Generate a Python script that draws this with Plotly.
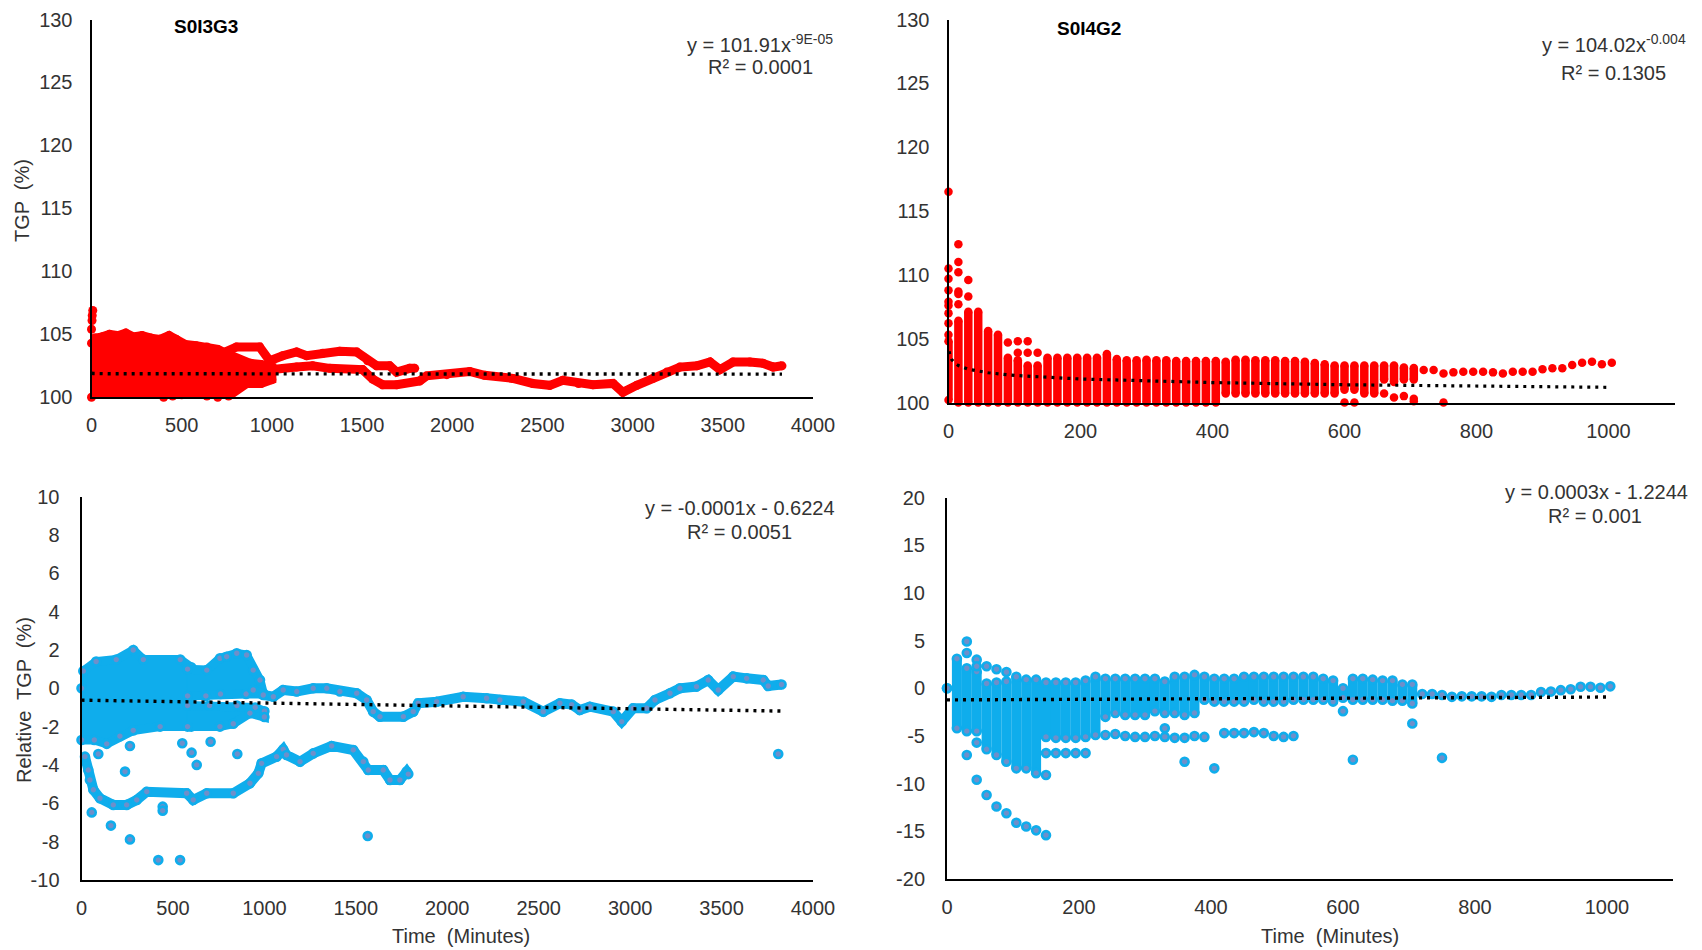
import plotly.graph_objects as go

W, H = 1702, 950
RED = "#FF0000"
BLUE = "#0FADEC"
BLUE_CORE = "#6E8FCA"
TXT = "#333333"
FONT = "Liberation Sans Narrow, Arial Narrow, Liberation Sans, Arial, sans-serif"

# ---------------- Panel A : S0I3G3, TGP (%) ----------------
a_cloud_x = [0, 20, 60, 100, 150, 190, 230, 280, 330, 380, 430, 470, 520, 580, 640, 700, 760, 820, 880, 940, 1000,
             1000, 940, 860, 800, 760, 700, 640, 560, 500, 450, 400, 0]
a_cloud_y = [104.3, 104.7, 104.8, 105.0, 104.9, 105.1, 104.8, 104.9, 104.7, 104.6, 104.9, 104.6, 104.2, 104.1, 104.0,
             103.8, 103.4, 103.0, 102.7, 102.6, 102.4,
             101.4, 101.1, 101.1, 100.6, 100.1, 100.0, 100.1, 100.3, 100.2, 100.1, 100.0, 100.0]
a_chain1_x = [727, 804, 932, 988, 1060, 1137, 1193, 1282, 1376, 1470, 1531, 1581, 1653, 1692, 1764, 1792]
a_chain1_y = [103.5, 104.0, 104.0, 102.9, 103.3, 103.6, 103.3, 103.5, 103.65, 103.6, 102.9, 102.5, 102.5, 102.0, 102.3, 102.3]
a_chain2_x = [760, 1004, 1137, 1226, 1320, 1503, 1559, 1614, 1692, 1820, 1858, 1970, 2097, 2179, 2336, 2447, 2541,
              2613, 2700, 2780, 2891, 2946, 3023, 3113, 3190, 3262, 3356, 3429, 3484, 3557, 3650, 3723, 3779, 3828]
a_chain2_y = [102.2, 102.2, 102.4, 102.5, 102.3, 102.2, 101.45, 101.0, 101.0, 101.3, 101.7, 101.8, 102.05, 101.75,
              101.5, 101.1, 100.95, 101.35, 101.1, 101.0, 101.1, 100.4, 100.95, 101.5, 102.0, 102.4, 102.5, 102.8,
              102.2, 102.8, 102.8, 102.7, 102.4, 102.5]
a_extra_x = [0, 3, 4, 7]
a_extra_y = [105.4, 106.1, 106.5, 106.9]
a_trend_x = [1, 10, 100, 1000, 3828]
a_trend_y = [101.91, 101.89, 101.87, 101.85, 101.84]

# ---------------- Panel B : S0I4G2, TGP (%) ----------------
b_col_x = list(range(0, 706, 15))
b_col_lo = [100.2] + [100.0] * 27 + [100.7] * 12 + [101.0, 101.0, 100.7, 100.7, 101.8, 101.6, 101.8, 101.8]
b_col_hi = [104.8, 106.4, 107.1, 107.1, 105.6, 105.3, 103.5, 103.3, 102.9, 102.9,
            103.5, 103.5, 103.5, 103.5, 103.5, 103.5, 103.8, 103.4, 103.3, 103.3,
            103.35, 103.3, 103.3, 103.25, 103.25, 103.25, 103.25, 103.25,
            103.2, 103.35, 103.35, 103.3, 103.3, 103.3, 103.25, 103.25, 103.2, 103.1, 103.0, 102.9,
            102.9, 102.9, 102.9, 102.9, 102.9, 102.9, 102.75, 102.7]
b_single_x = [720, 735, 750, 765, 780, 795, 810, 825, 840, 855, 870, 885, 900, 915, 930, 945, 960, 975, 990, 1005]
b_single_y = [102.55, 102.55, 102.28, 102.36, 102.41, 102.41, 102.41, 102.36, 102.28, 102.41, 102.41, 102.41,
              102.6, 102.68, 102.68, 102.94, 103.12, 103.2, 103.0, 103.12]
b_extra_x = [0, 0, 0, 0, 0, 0, 0, 0, 0, 15, 15, 15, 15, 15, 15, 30, 30, 90, 105, 105, 120, 120, 135,
             600, 615, 660, 675, 690, 705, 705, 750]
b_extra_y = [116.5, 110.5, 109.7, 108.8, 107.9, 107.6, 107.0, 106.2, 105.3, 112.4, 111.0, 110.2, 108.7, 108.5,
             107.7, 109.6, 108.3, 104.7, 104.8, 103.9, 104.8, 103.9, 103.9,
             100.0, 100.0, 100.7, 100.4, 100.5, 100.3, 100.1, 100.0]
b_trend_x = [1, 2, 5, 10, 15, 30, 60, 100, 200, 400, 600, 800, 1000]
b_trend_y = [104.02, 103.73, 103.35, 103.07, 102.90, 102.61, 102.33, 102.12, 101.84, 101.56, 101.39, 101.28, 101.19]

# ---------------- Panel C : S0I3G3, Relative TGP (%) ----------------
c_cloud1_x = [0, 10, 80, 190, 283, 338, 540, 600, 600, 430, 283, 210, 138, 70, 0]
c_cloud1_y = [0.0, 0.9, 1.4, 1.5, 2.0, 1.5, 1.5, 1.1, -2.0, -2.0, -2.2, -2.5, -2.9, -2.7, -2.7]
c_cloud2_x = [580, 685, 757, 794, 849, 903, 939, 976, 994, 994, 900, 760, 680, 580]
c_cloud2_y = [1.0, 0.95, 1.57, 1.65, 1.83, 1.74, 0.95, 0.43, -0.26, -0.3, -0.3, -0.3, -0.4, -0.4]
c_cloud3_x = [580, 700, 850, 950, 1000, 1000, 921, 830, 757, 580]
c_cloud3_y = [-0.9, -0.9, -0.9, -1.0, -1.2, -1.5, -1.3, -1.85, -2.0, -2.0]
c_low_x = [19, 37, 46, 65, 101, 174, 247, 302, 357, 575, 611, 685, 830, 921, 967, 985, 1067, 1103, 1121, 1195,
           1267, 1368, 1486, 1541, 1568, 1650, 1687, 1741, 1778, 1787]
c_low_y = [-3.57, -4.27, -4.79, -5.3, -5.74, -6.09, -6.09, -5.83, -5.4, -5.48, -5.83, -5.48, -5.48, -4.96, -4.44,
           -3.92, -3.57, -3.19, -3.48, -3.83, -3.4, -3.01, -3.22, -3.83, -4.27, -4.27, -4.79, -4.79, -4.35, -4.48]
c_up_x = [939, 994, 1049, 1103, 1177, 1267, 1341, 1413, 1505, 1559, 1595, 1632, 1760, 1814, 1841, 1942, 2087,
          2215, 2288, 2416, 2525, 2616, 2680, 2725, 2780, 2908, 2954, 3017, 3090, 3136, 3218, 3272, 3363, 3427,
          3482, 3564, 3637, 3728, 3755, 3828]
c_up_y = [-0.09, -0.35, -0.44, -0.09, -0.17, 0.0, 0.0, -0.17, -0.26, -0.61, -1.22, -1.48, -1.48, -1.22, -0.78,
          -0.7, -0.44, -0.52, -0.61, -0.7, -1.22, -0.78, -0.85, -1.13, -0.96, -1.22, -1.74, -1.04, -1.04, -0.61,
          -0.26, 0.0, 0.09, 0.43, -0.09, 0.61, 0.52, 0.43, 0.12, 0.2]
c_extra_x = [92, 56, 161, 265, 265, 238, 420, 539, 444, 444, 551, 602, 630, 706, 852, 1565, 3810]
c_extra_y = [-3.43, -6.48, -7.17, -7.89, -3.01, -4.35, -8.97, -8.97, -6.18, -6.39, -2.87, -3.36, -4.0, -2.79,
             -3.43, -7.71, -3.43]
c_trend_x = [0, 3828]
c_trend_y = [-0.62, -1.19]

# ---------------- Panel D : S0I4G2, Relative TGP (%) ----------------
d_col_x = list(range(0, 706, 15))
d_col_lo = [0.0, -4.2, -4.5, -4.5, -6.4, -7.0, -7.7, -8.4, -8.4, -8.9, -5.1, -5.2, -5.2, -5.2, -5.1, -4.9,
            -3.0, -2.6, -2.8, -2.8, -2.8, -2.4, -2.6, -2.6, -2.8, -2.6, -1.2, -1.4, -1.4, -1.4, -1.4, -1.2,
            -1.4, -1.4, -1.4, -1.2, -1.2, -1.2, -1.2, -1.4, -1.0, -1.2, -1.2, -1.2, -1.2, -1.3, -1.3, -1.6]
d_col_hi = [0.0, 3.1, 2.1, 1.75, 0.5, 0.6, 0.7, 1.2, 0.9, 0.9, 0.6, 0.6, 0.6, 0.6, 0.8, 1.2,
            1.0, 1.0, 1.0, 1.0, 1.0, 1.0, 0.7, 1.2, 1.2, 1.4, 1.2, 1.0, 1.0, 1.0, 1.2, 1.2,
            1.2, 1.2, 1.2, 1.2, 1.2, 1.2, 1.0, 0.8, 0.0, 1.0, 1.0, 0.9, 0.8, 0.8, 0.4, 0.4]
d_single_x = [720, 735, 750, 765, 780, 795, 810, 825, 840, 855, 870, 885, 900, 915, 930, 945, 960, 975, 990, 1005]
d_single_y = [-0.6, -0.6, -0.7, -0.9, -0.85, -0.85, -0.85, -0.9, -0.7, -0.7, -0.7, -0.7, -0.4, -0.35, -0.2,
              -0.1, 0.15, 0.15, 0.05, 0.2]
d_extra_x = [30, 30, 30, 45, 45, 45, 45, 60, 60, 75, 75, 90, 90, 105, 120, 135, 150, 150, 150,
             165, 180, 195, 210, 240, 255, 270, 285, 300, 315, 330, 330, 345, 360, 360, 375, 390, 405,
             420, 435, 450, 465, 480, 495, 510, 525, 600, 615, 705, 750]
d_extra_y = [4.9, 3.7, -7.0, 3.0, 2.3, -5.7, -9.6, 2.3, -11.2, 2.0, -12.4, 1.7, -13.1, -14.1, -14.5, -14.9,
             -6.8, -9.1, -15.4, -6.8, -6.8, -6.8, -6.8, -4.9, -4.8, -5.0, -5.1, -5.1, -5.0, -4.2, -5.1, -5.2,
             -5.2, -7.7, -5.0, -5.1, -8.4, -4.7, -4.7, -4.7, -4.6, -4.7, -5.0, -5.1, -5.0, -2.4, -7.5, -3.7, -7.3]
d_trend_x = [0, 1005]
d_trend_y = [-1.22, -0.92]

# tick labels
ticks_long = list(range(0, 4001, 500))
ticks_short = list(range(0, 1001, 200))
ticks_tgp = list(range(100, 131, 5))
ticks_rel_a = list(range(-10, 11, 2))
ticks_rel_b = list(range(-20, 21, 5))


def col_segments(xs, lo, hi):
    sx, sy = [], []
    for x, l, h in zip(xs, lo, hi):
        sx += [x, x, None]
        sy += [l, h, None]
    return sx, sy


def ends(xs, lo, hi):
    ex, ey = [], []
    for x, l, h in zip(xs, lo, hi):
        ex += [x, x]
        ey += [l, h]
    return ex, ey


fig = go.Figure()


def add(tr, ax):
    tr.update(xaxis="x" + ("" if ax == 1 else str(ax)), yaxis="y" + ("" if ax == 1 else str(ax)),
              showlegend=False, hoverinfo="skip", cliponaxis=False)
    fig.add_trace(tr)


red_mk = dict(size=9, color=RED)
blue_mk = dict(size=8, color=BLUE_CORE, line=dict(color=BLUE, width=2.6))
trend_line = dict(color="black", width=3.4, dash="3px,5px")

# Panel A
add(go.Scatter(x=a_cloud_x, y=a_cloud_y, mode="lines+markers", fill="toself", fillcolor=RED,
               line=dict(color=RED, width=9), marker=red_mk), 1)
for cx, cy in [(a_chain1_x, a_chain1_y), (a_chain2_x, a_chain2_y)]:
    add(go.Scatter(x=cx, y=cy, mode="lines+markers", line=dict(color=RED, width=9), marker=red_mk), 1)
add(go.Scatter(x=a_extra_x, y=a_extra_y, mode="markers", marker=red_mk), 1)
add(go.Scatter(x=a_trend_x, y=a_trend_y, mode="lines", line=trend_line), 1)

# Panel B
sx, sy = col_segments(b_col_x, b_col_lo, b_col_hi)
add(go.Scatter(x=sx, y=sy, mode="lines", line=dict(color=RED, width=8.5)), 2)
ex, ey = ends(b_col_x, b_col_lo, b_col_hi)
add(go.Scatter(x=ex + b_extra_x + b_single_x, y=ey + b_extra_y + b_single_y, mode="markers",
               marker=dict(size=8.5, color=RED)), 2)
add(go.Scatter(x=b_trend_x, y=b_trend_y, mode="lines", line=dict(color="black", width=3.2, dash="3px,5px")), 2)

# Panel C
for px, py in [(c_cloud1_x, c_cloud1_y), (c_cloud2_x, c_cloud2_y), (c_cloud3_x, c_cloud3_y)]:
    add(go.Scatter(x=px, y=py, mode="lines+markers", fill="toself", fillcolor=BLUE,
                   line=dict(color=BLUE, width=9), marker=blue_mk), 3)
for cx, cy in [(c_low_x, c_low_y), (c_up_x, c_up_y)]:
    add(go.Scatter(x=cx, y=cy, mode="lines+markers", line=dict(color=BLUE, width=10), marker=blue_mk), 3)
add(go.Scatter(x=c_extra_x, y=c_extra_y, mode="markers", marker=blue_mk), 3)
add(go.Scatter(x=c_trend_x, y=c_trend_y, mode="lines", line=trend_line), 3)

# Panel D
sx, sy = col_segments(d_col_x, d_col_lo, d_col_hi)
add(go.Scatter(x=sx, y=sy, mode="lines", line=dict(color=BLUE, width=10)), 4)
ex, ey = ends(d_col_x, d_col_lo, d_col_hi)
add(go.Scatter(x=ex + d_extra_x + d_single_x, y=ey + d_extra_y + d_single_y, mode="markers", marker=blue_mk), 4)
add(go.Scatter(x=d_trend_x, y=d_trend_y, mode="lines", line=trend_line), 4)


def px2x(p):
    return p / W


def px2y(p):
    return (H - p) / H


axis_common = dict(showgrid=False, zeroline=False, showline=True, linecolor="black", linewidth=2,
                   ticks="", tickfont=dict(family=FONT, size=20, color=TXT), fixedrange=True,
                   automargin=False)


def tk(vals):
    return dict(tickvals=vals, ticktext=[str(v) for v in vals])


fig.update_layout(
    width=W, height=H, margin=dict(l=0, r=0, t=0, b=0, autoexpand=False),
    paper_bgcolor="white", plot_bgcolor="white",
    xaxis=dict(domain=[px2x(91.5), px2x(813)], range=[0, 4000], anchor="y", ticklabelstandoff=9,
               **tk(ticks_long), **axis_common),
    yaxis=dict(domain=[px2y(397.3), px2y(19.5)], range=[100, 130], anchor="x", ticklabelstandoff=13,
               **tk(ticks_tgp), **axis_common),
    xaxis2=dict(domain=[px2x(948.5), px2x(1674.5)], range=[0, 1100], anchor="y2", ticklabelstandoff=9,
                **tk(ticks_short), **axis_common),
    yaxis2=dict(domain=[px2y(402.5), px2y(19.5)], range=[100, 130], anchor="x2", ticklabelstandoff=13,
                **tk(ticks_tgp), **axis_common),
    xaxis3=dict(domain=[px2x(81.5), px2x(813)], range=[0, 4000], anchor="y3", ticklabelstandoff=9,
                **tk(ticks_long), **axis_common),
    yaxis3=dict(domain=[px2y(879.8), px2y(496.8)], range=[-10, 10], anchor="x3", ticklabelstandoff=16,
                **tk(ticks_rel_a), **axis_common),
    xaxis4=dict(domain=[px2x(947), px2x(1673)], range=[0, 1100], anchor="y4", ticklabelstandoff=9,
                **tk(ticks_short), **axis_common),
    yaxis4=dict(domain=[px2y(879), px2y(497.5)], range=[-20, 20], anchor="x4", ticklabelstandoff=16,
                **tk(ticks_rel_b), **axis_common),
)


def ann(text, x, y, size=20, bold=False, angle=0, xanchor="center"):
    fig.add_annotation(text=("<b>%s</b>" % text) if bold else text, x=px2x(x), y=px2y(y),
                       xref="paper", yref="paper", showarrow=False, xanchor=xanchor, yanchor="middle",
                       textangle=angle, font=dict(family=FONT, size=size, color=TXT if not bold else "black"))


ann("S0I3G3", 206, 27, size=19, bold=True)
ann("S0I4G2", 1089, 28, size=19, bold=True)
ann("y = 101.91x<sup>-9E-05</sup>", 760, 43)
ann("R² = 0.0001", 760, 67)
ann("y = 104.02x<sup>-0.004</sup>", 1614, 43)
ann("R² = 0.1305", 1613, 73)
ann("y = -0.0001x - 0.6224", 740, 508)
ann("R² = 0.0051", 739, 532)
ann("y = 0.0003x - 1.2244", 1596, 492)
ann("R² = 0.001", 1595, 516)
ann("TGP  (%)", 22, 201, angle=-90)
ann("Relative  TGP  (%)", 24, 700, angle=-90)
ann("Time  (Minutes)", 461, 936)
ann("Time  (Minutes)", 1330, 936)

fig.write_html("out.html")
